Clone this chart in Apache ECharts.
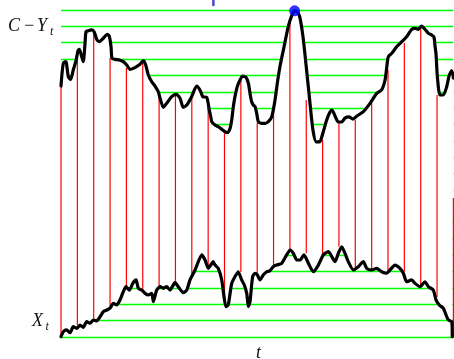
<!DOCTYPE html>
<html><head><meta charset="utf-8">
<script src="https://cdn.jsdelivr.net/npm/echarts@6/dist/echarts.min.js"></script>
<style>html,body{margin:0;padding:0;background:#fff}#c{width:454px;height:359px}</style>
</head><body><div id="c"></div>
<script>
// upper curve C - Y_t
const upperT = [0,0.14,0.29,0.45,0.59,0.75,0.92,1.04,1.12,1.24,
1.36,1.47,1.53,1.67,1.88,2.04,2.18,2.34,2.59,2.83,
2.95,3.06,3.12,3.30,3.57,3.81,4.02,4.22,4.42,4.67,
4.83,5.03,5.18,5.34,5.55,5.75,5.95,6.06,6.26,6.46,
6.77,7.03,7.28,7.48,7.69,7.99,8.30,8.50,8.67,8.91,
9.07,9.16,9.22,9.42,9.62,9.83,10.03,10.17,10.34,10.44,
10.54,10.64,10.78,10.95,11.11,11.31,11.46,11.56,11.66,11.76,
11.87,11.97,12.07,12.28,12.48,12.68,12.89,13.09,13.23,13.39,
13.60,13.90,14.10,14.29,14.46,14.60,14.80,15.00,15.21,15.41,
15.61,15.82,16.02,16.25,16.45,16.57,16.76,16.96,17.17,17.37,
17.61,17.86,18.10,18.49,18.90,19.31,19.61,19.82,19.94,20.02,
20.23,20.53,20.84,21.14,21.45,21.65,21.85,22.06,22.26,22.47,
22.67,22.81,22.87,22.94,23.02,23.18,23.38,23.59,23.75,23.90,24.0];
const upperV = [15.35,16.74,16.84,15.92,15.76,16.33,16.90,17.51,17.60,17.25,
16.84,17.96,18.67,18.73,18.78,18.64,18.21,18.06,18.27,18.51,
18.41,17.75,17.05,16.98,16.94,16.84,16.64,16.37,16.43,16.57,
16.68,16.90,16.64,16.02,15.61,15.35,15.00,14.60,14.05,14.29,
14.70,14.84,14.60,14.05,14.19,14.70,15.35,15.11,14.70,14.66,
13.88,13.47,13.17,12.97,12.86,12.70,12.56,12.50,12.76,13.27,
14.09,14.70,15.31,15.72,15.96,15.88,15.52,14.90,14.39,14.19,
14.09,13.68,13.17,13.07,13.07,13.17,13.47,14.49,15.52,16.53,
17.55,18.98,19.63,19.95,19.88,19.59,18.37,16.53,14.49,12.66,
11.94,11.94,12.48,13.27,13.76,13.88,13.52,13.15,13.15,13.39,
13.46,13.33,13.52,13.78,14.29,14.90,15.11,15.72,16.64,17.14,
17.35,17.75,18.06,18.37,18.82,18.88,18.82,19.02,18.82,18.57,
18.47,18.35,17.86,17.25,15.92,14.80,14.80,15.31,16.02,16.29,15.84];

// lower curve X_t
const lowerT = [0,0.14,0.35,0.55,0.75,0.96,1.16,1.36,1.57,1.77,
1.98,2.18,2.39,2.59,2.80,3.00,3.20,3.41,3.61,3.81,
3.98,4.18,4.39,4.59,4.73,4.94,5.14,5.34,5.55,5.65,
5.85,6.06,6.26,6.46,6.67,6.97,7.17,7.48,7.69,7.89,
8.20,8.61,8.81,9.01,9.16,9.31,9.42,9.62,9.83,9.97,
10.09,10.23,10.44,10.64,10.84,11.05,11.21,11.36,11.46,11.56,
11.72,11.87,12.01,12.17,12.37,12.58,12.78,12.98,13.19,13.50,
13.80,14.01,14.21,14.42,14.62,14.86,15.13,15.43,15.74,16.04,
16.35,16.76,16.96,17.17,17.37,17.57,17.88,18.18,18.49,18.70,
19.00,19.31,19.61,19.92,20.12,20.43,20.73,20.94,21.14,21.45,
21.65,21.96,22.26,22.47,22.77,22.94,23.14,23.38,23.55,23.69,
23.90,23.93];
const lowerV = [0.02,0.32,0.43,0.26,0.63,0.53,0.73,0.59,0.94,0.84,
1.04,0.98,1.24,1.55,1.65,1.76,2.06,1.96,2.26,2.77,
3.08,2.87,3.28,3.49,2.98,2.87,2.67,2.57,2.67,2.16,
2.87,3.08,2.98,3.08,2.87,3.32,3.08,2.71,2.87,3.49,
4.10,5.02,4.71,4.20,4.40,4.61,4.40,4.20,3.49,2.46,
1.85,1.96,3.28,3.69,3.99,3.49,3.18,2.67,1.85,2.16,
3.69,3.90,3.79,3.49,3.79,3.99,4.05,4.30,4.40,4.51,
5.02,5.32,5.12,4.71,4.71,5.02,4.51,3.99,4.40,5.02,
5.22,4.61,5.12,5.52,5.12,4.61,4.10,4.30,4.61,4.20,
4.10,4.20,3.99,3.90,4.10,4.40,4.20,3.90,3.38,3.49,
3.28,3.08,3.38,3.08,2.87,2.26,1.96,1.76,1.35,1.04,
0.94,0.02];

// red vertical segments at integer times
const redT = [0,1,2,3,4,5,6,7,8,9,10,11,12,13,14,15,16,17,18,19,20,21,22,23,24];
const redTop = [15.35,17.19,18.65,17.06,16.45,16.76,14.68,14.80,14.68,14.01,12.56,15.72,13.09,13.88,19.20,14.49,12.05,13.09,13.27,14.31,16.33,17.98,19.08,14.80,8.50];
const redBottom = [0,0.73,1.04,1.77,3.06,2.87,3.06,3.30,3.79,4.22,1.96,3.98,3.79,4.28,5.32,5.12,5.02,5.52,4.16,4.20,3.90,3.99,3.08,2.45,0];

// green horizontal levels
const levels = [0,1,2,3,4,5,6,7,8,9,10,11,12,13,14,15,16,17,18,19,20];

// blue dot at the maximum, blue tick at top
const peak = [14.29, 19.95];
const tick = [9.32, 20.24, 20.62];

const upper = upperT.map((t, i) => [t, upperV[i]]);
const lower = lowerT.map((t, i) => [t, lowerV[i]]);

const chart = echarts.init(document.getElementById('c'), null, {renderer: 'canvas'});
const serif = '"Liberation Serif", "DejaVu Serif", serif';
const txt = (s, x, y, size) => ({type: 'text', x: x, y: y, z: 100,
  style: {text: s, fill: '#111', fontFamily: serif, fontStyle: 'italic', fontSize: size, verticalAlign: 'middle', align: 'left'}});

chart.setOption({
  animation: false,
  grid: {left: 61, top: 10, width: 392.4, height: 327},
  xAxis: {type: 'value', min: 0, max: 24, show: false},
  yAxis: {type: 'value', min: levels[0], max: levels[levels.length - 1], interval: 1,
    axisLine: {show: false}, axisTick: {show: false}, axisLabel: {show: false},
    splitLine: {show: true, lineStyle: {color: '#00ff00', width: 1.3}}},
  series: [
    {type: 'custom', z: 2, silent: true, data: [[0, 0]],
      renderItem: (params, api) => {
        const pts = upper.map(p => api.coord(p)).concat(lower.slice().reverse().map(p => api.coord(p)));
        return {type: 'polygon', shape: {points: pts}, style: {fill: '#ffffff', stroke: null}};
      }},
    {type: 'custom', z: 3, silent: true,
      data: redT.map((t, i) => [t, redBottom[i], redTop[i]]),
      renderItem: (params, api) => {
        const a = api.coord([api.value(0), api.value(1)]);
        const b = api.coord([api.value(0), api.value(2)]);
        return {type: 'line', shape: {x1: a[0], y1: a[1], x2: b[0], y2: b[1]},
          style: {stroke: '#ff0000', lineWidth: 1.2}};
      }},
    {type: 'line', z: 4, data: upper, symbol: 'none', clip: false, smooth: 0.25,
      lineStyle: {color: '#000', width: 3.2, join: 'round', cap: 'round'}},
    {type: 'line', z: 4, data: lower, symbol: 'none', clip: false, smooth: 0.2,
      lineStyle: {color: '#000', width: 3.2, join: 'round', cap: 'round'}},
    {type: 'scatter', z: 5, data: [peak], symbol: 'circle', symbolSize: 11,
      itemStyle: {color: '#0000ff'}},
    {type: 'custom', z: 5, silent: true, data: [tick],
      renderItem: (params, api) => {
        const a = api.coord([api.value(0), api.value(1)]);
        const b = api.coord([api.value(0), api.value(2)]);
        return {type: 'line', shape: {x1: a[0], y1: a[1], x2: b[0], y2: b[1]},
          style: {stroke: '#4848c8', lineWidth: 2.5}};
      }}
  ],
  graphic: [
    txt('C', 8, 26, 18),
    txt('\u2212', 23, 26, 18),
    txt('Y', 37, 26, 18),
    txt('t', 50, 32, 12),
    txt('X', 32, 321, 18),
    txt('t', 45.5, 327, 12),
    txt('t', 256, 353, 18)
  ]
});
</script>
</body></html>
